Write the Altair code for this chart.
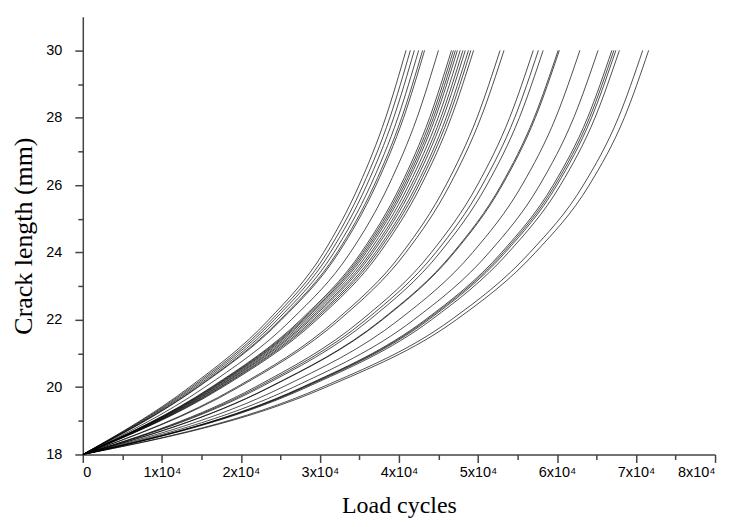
import altair as alt
import pandas as pd

# crack length levels (mm)
crack_levels = [18, 20, 22, 24, 26, 28, 30]

# load cycles at which each of the 32 curves reaches the given crack length
n_at_18 = [0] * 32
n_at_20 = [13500, 13750, 13990, 14250, 14480, 14600, 15450, 16270, 16390, 16520, 16650, 16820,
           17000, 17150, 17360, 17510, 17700, 19470, 19740, 21800, 22170, 22510, 23620, 23710,
           25270, 26680, 27780, 27930, 28100, 28380, 30300, 30790]
n_at_22 = [23520, 23900, 24240, 24620, 24970, 25150, 26390, 27570, 27750, 27930, 28110, 28360,
           28620, 28830, 29120, 29350, 29610, 32100, 32480, 35310, 35820, 36290, 37790, 37910,
           40000, 41880, 43330, 43530, 43750, 44120, 46620, 47260]
n_at_24 = [30470, 30920, 31330, 31790, 32200, 32400, 33860, 35230, 35440, 35650, 35870, 36160,
           36460, 36710, 37040, 37300, 37600, 40460, 40890, 44110, 44680, 45210, 46890, 47020,
           49340, 51420, 53000, 53230, 53460, 53870, 56590, 57280]
n_at_26 = [34970, 35470, 35930, 36430, 36880, 37110, 38720, 40240, 40470, 40700, 40930, 41250,
           41580, 41860, 42230, 42510, 42830, 45960, 46430, 49930, 50550, 51120, 52940, 53080,
           55580, 57810, 59520, 59760, 60000, 60440, 63340, 64080]
n_at_28 = [38320, 38850, 39340, 39870, 40350, 40590, 42290, 43880, 44130, 44370, 44610, 44960,
           45300, 45590, 45980, 46270, 46610, 49880, 50370, 54010, 54650, 55240, 57110, 57260,
           59840, 62120, 63870, 64120, 64370, 64810, 67770, 68520]
n_at_30 = [40900, 41450, 41950, 42500, 43000, 43250, 45000, 46650, 46900, 47150, 47400, 47750,
           48100, 48400, 48800, 49100, 49450, 52800, 53300, 57000, 57650, 58250, 60150, 60300,
           62900, 65200, 66950, 67200, 67450, 67900, 70850, 71600]

levels_n = [n_at_18, n_at_20, n_at_22, n_at_24, n_at_26, n_at_28, n_at_30]

rows = []
for a, ns in zip(crack_levels, levels_n):
    for i, n in enumerate(ns):
        rows.append({"curve": i, "cycles": n, "crack": a})
df = pd.DataFrame(rows)

x_ticks = list(range(0, 80001, 5000))
y_ticks = list(range(18, 31))

chart = alt.Chart(df).mark_line(
    color="black", strokeWidth=0.7, interpolate="monotone", clip=True
).encode(
    x=alt.X(
        "cycles:Q",
        scale=alt.Scale(domain=[0, 80000], nice=False, zero=False),
        axis=alt.Axis(
            title="Load cycles",
            values=x_ticks,
            labelExpr="datum.value % 10000 !== 0 ? '' : (datum.value === 0 ? '0' : (datum.value / 10000) + 'x10⁴')",
            tickSize={"condition": {"test": "datum.value % 10000 === 0", "value": 8}, "value": 5},
            labelPadding=3,
            titlePadding=15,
            titleFontSize=24,
        ),
    ),
    y=alt.Y(
        "crack:Q",
        scale=alt.Scale(domain=[18, 31], nice=False, zero=False),
        axis=alt.Axis(
            title="Crack length (mm)",
            values=y_ticks,
            labelExpr="datum.value % 2 === 0 ? datum.label : ''",
            tickSize={"condition": {"test": "datum.value % 2 === 0", "value": 8}, "value": 5},
            labelPadding=13,
            titlePadding=9,
            titleFontSize=26,
        ),
    ),
    detail="curve:N",
).properties(
    width=634,
    height=439,
    autosize=alt.AutoSizeParams(type="none"),
    padding={"left": 75, "top": 8, "right": 16, "bottom": 64},
).configure_view(
    stroke=None
).configure_axis(
    grid=False,
    domainColor="#444444",
    domainWidth=1.5,
    tickColor="#444444",
    tickWidth=1.5,
    labelFont="Liberation Sans",
    labelFontSize=14.5,
    labelColor="black",
    titleFont="Liberation Serif",
    titleFontWeight="normal",
    titleColor="black",
)

chart.save("out.html", embed_options={"renderer": "svg", "actions": False})
